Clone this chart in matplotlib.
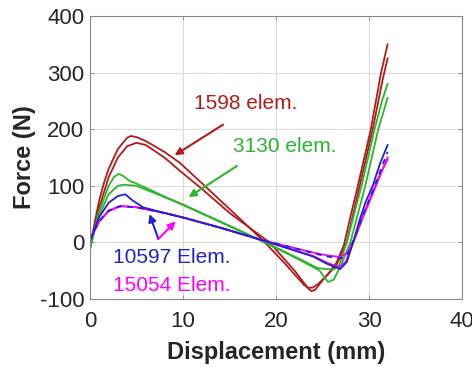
import numpy as np
import matplotlib
matplotlib.use("Agg")
import matplotlib.pyplot as plt

plt.rcParams["font.family"] = ["Liberation Sans", "DejaVu Sans"]
plt.rcParams["axes.unicode_minus"] = False

# ── curve data ───────────────────────────────────────────────────────────────
red_a_x = [0, 0.5, 1, 1.5, 2, 3, 4, 4.4, 5, 6, 8, 9.7, 12, 15, 18.5, 21, 23, 23.4,
           23.9, 24.5, 25.5, 26.5, 27.3, 28, 28.8, 30.2, 31.3, 32]
red_a_y = [-12, 35, 75, 105, 130, 165, 185, 188, 186, 179, 160, 140, 105, 59, 5, -38,
           -75, -80, -80, -74, -58, -36, -5, 45, 100, 200, 300, 350]

red_b_x = [0, 0.5, 1, 2, 3, 4, 5, 6, 8, 9.7, 12, 15, 19.3, 22, 23.5, 23.8, 24.2, 25,
           26.5, 27.6, 29.0, 30.4, 31.5, 32]
red_b_y = [-5, 28, 62, 115, 150, 170, 176, 172, 150, 126, 95, 52, 0, -50, -82, -86,
           -84, -67, -40, 0, 100, 200, 290, 325]

green_a_x = [0, 0.5, 1, 2, 2.6, 3.1, 3.6, 4.3, 5, 8, 10, 14, 18.1, 21, 23, 24.4,
             25.3, 26.2, 26.8, 27.6, 28.4, 29.2, 30.6, 31.4, 32]
green_a_y = [-10, 25, 55, 100, 116, 121, 117, 108, 104, 81, 67, 37, 6, -17, -33, -45,
             -47, -48, -40, 0, 50, 100, 200, 250, 280]

green_b_x = [0, 0.5, 1, 2, 3, 3.6, 5, 8, 10, 14, 18.1, 21, 23, 24.7, 25.6, 26.2,
             27, 28, 28.8, 29.6, 31, 32]
green_b_y = [-12, 20, 48, 85, 100, 102, 100, 80, 66, 36, 5, -18, -35, -50, -70, -66,
             -40, 0, 50, 100, 200, 255]

blue_a_x = [0, 0.5, 1, 2, 3, 3.8, 4.5, 5.7, 8, 10, 14, 18.1, 21, 24, 25.5, 26.9,
            27.6, 28.3, 29, 29.6, 30.4, 31.2, 32]
blue_a_y = [2, 25, 45, 70, 82, 85, 75, 62, 52, 44, 26, 6, -9, -25, -38, -47,
            -35, 0, 40, 70, 100, 140, 172]

blue_b_x = [0, 0.5, 1, 2, 3, 3.4, 5, 8, 10, 14, 18.1, 21, 24, 25.5, 27.2, 27.8,
            28.5, 29.3, 30.5, 31.3, 32]
blue_b_y = [5, 22, 38, 56, 63, 64, 62, 52, 44, 26, 6, -6, -19, -25, -28, -18,
            10, 45, 95, 130, 160]

mag_a_x = [0, 0.5, 1, 2, 3, 3.4, 5, 8, 10, 14, 18.1, 21, 24, 25.5, 27.0, 27.7,
           28.5, 29.3, 30.5, 31.3, 32]
mag_a_y = [4, 22, 38, 56, 63, 64, 62, 52, 44, 26, 6, -6, -18, -23, -26, -17,
           8, 42, 90, 122, 150]

mag_b_x = [0, 0.5, 1, 2, 3, 3.4, 5, 8, 10, 14, 18.1, 21, 24, 25.5, 26.8, 27.5,
           28.3, 29.2, 30.4, 31.3, 32]
mag_b_y = [3, 21, 37, 55, 62, 64, 62, 52, 44, 26, 6, -9, -24, -36, -44, -34,
           0, 42, 90, 125, 146]

RED = "#b31b1b"
GREEN = "#2db52d"
BLUE = "#2222cc"
MAGENTA = "#ff00ff"

fig = plt.figure(figsize=(4.72, 3.67), dpi=100)
ax = fig.add_axes([0.1907, 0.1853, 0.7881, 0.7711])

lw = 1.3
ax.plot(red_a_x, red_a_y, color=RED, lw=lw)
ax.plot(red_b_x, red_b_y, color=RED, lw=lw)
ax.plot(green_a_x, green_a_y, color=GREEN, lw=lw)
ax.plot(green_b_x, green_b_y, color=GREEN, lw=lw)
ax.plot(mag_a_x, mag_a_y, color=MAGENTA, lw=lw)
ax.plot(mag_b_x, mag_b_y, color=MAGENTA, lw=lw)
ax.plot(blue_a_x, blue_a_y, color=BLUE, lw=lw)
ax.plot(blue_b_x, blue_b_y, color=BLUE, lw=lw, ls=(0, (3, 3)))

# annotations
fs = 15
ax.text(11.2, 246, "1598 elem.", color=RED, fontsize=fs, va="center")
ax.text(15.4, 169, "3130 elem.", color=GREEN, fontsize=fs, va="center")
ax.text(2.5, -27, "10597 Elem.", color=BLUE, fontsize=fs, va="center")
ax.text(2.5, -76, "15054 Elem.", color=MAGENTA, fontsize=fs, va="center")

arr = dict(arrowstyle="-|>", lw=1.5, mutation_scale=11, shrinkA=0, shrinkB=0)
ax.annotate("", xy=(9.1, 154), xytext=(14.3, 208), arrowprops=dict(arr, color=RED))
ax.annotate("", xy=(10.6, 80), xytext=(15.8, 135), arrowprops=dict(arr, color=GREEN))
ax.annotate("", xy=(6.4, 50), xytext=(7.35, 6), arrowprops=dict(arr, color=BLUE))
ax.annotate("", xy=(9.2, 37), xytext=(7.35, 6), arrowprops=dict(arr, color=MAGENTA))

ax.set_xlim(0, 40)
ax.set_ylim(-100, 400)
ax.set_xticks([0, 10, 20, 30, 40])
ax.set_yticks([-100, 0, 100, 200, 300, 400])
ax.grid(True, color="#dcdcdc", lw=0.8)
ax.set_axisbelow(True)
ax.tick_params(direction="in", length=3, width=0.6, colors="#888888",
               labelcolor="#262626", labelsize=16, top=True, right=True)
ax.tick_params(axis="x", pad=9)
ax.tick_params(axis="y", pad=4)
for s in ax.spines.values():
    s.set_color("#888888")
    s.set_linewidth(0.8)

ax.set_xlabel("Displacement (mm)", fontsize=17, fontweight="bold", color="#262626", labelpad=6)
ax.set_ylabel("Force (N)", fontsize=17, fontweight="bold", color="#262626", labelpad=3)

fig.savefig("out.png", dpi=100)
